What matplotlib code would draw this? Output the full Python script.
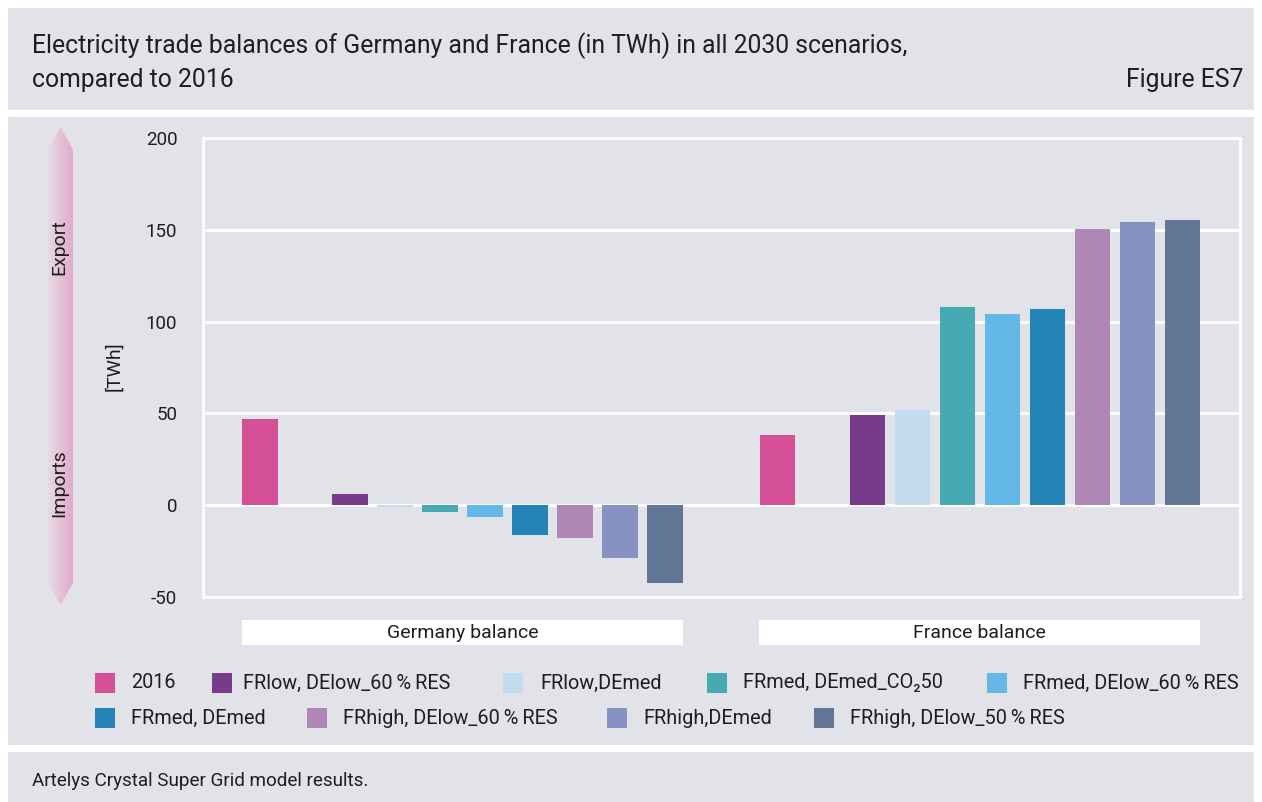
import numpy as np
import matplotlib
matplotlib.use("Agg")
import matplotlib.pyplot as plt
from matplotlib.patches import Rectangle, Polygon
import matplotlib.transforms as mtransforms
from matplotlib.colors import LinearSegmentedColormap

plt.rcParams['font.family'] = ['Roboto', 'DejaVu Sans']

# ---------------- data ----------------
scenarios = ["2016", "FRlow, DElow_60\u2009%\u2009RES", "FRlow,DEmed", "FRmed, DEmed_CO\u208250",
             "FRmed, DElow_60\u2009%\u2009RES", "FRmed, DEmed", "FRhigh, DElow_60\u2009%\u2009RES",
             "FRhigh,DEmed", "FRhigh, DElow_50\u2009%\u2009RES"]
colors = ["#d55096", "#773b89", "#c3dbef", "#47a9b2", "#63b8e8", "#2483b7", "#ae87b4", "#8693c2", "#627594"]
groups = ["Germany balance", "France balance"]
germany = [47, 6, -1, -3.5, -6.5, -16, -18, -29, -42.5]
france = [38.5, 49, 52, 108, 104, 107, 150.5, 154.5, 155.5]
yticks = [-50, 0, 50, 100, 150, 200]

title_line1 = "Electricity trade balances of Germany and France (in TWh) in all 2030 scenarios,"
title_line2 = "compared to 2016"
fig_label = "Figure ES7"
source = "Artelys Crystal Super Grid model results."

# ---------------- figure ----------------
W, H = 1262, 802
fig = plt.figure(figsize=(W / 100, H / 100), dpi=100, facecolor="white")
PANEL = "#e2e3e8"
TXT = "#1e1e1e"

def fx(x):
    return x / W

def fy(y):
    return 1 - y / H

def panel(x0, y0, x1, y1):
    fig.patches.append(Rectangle((fx(x0), fy(y1)), fx(x1) - fx(x0), fy(y0) - fy(y1),
                                 transform=fig.transFigure, facecolor=PANEL, edgecolor="none", zorder=-10))

panel(8, 8, 1254, 110)
panel(8, 117, 1254, 745)
panel(8, 752, 1254, 802)

fig.text(fx(32), fy(46), title_line1, fontsize=17.8, color=TXT, va="center", ha="left")
fig.text(fx(32), fy(80), title_line2, fontsize=17.8, color=TXT, va="center", ha="left")
fig.text(fx(1244), fy(80), fig_label, fontsize=17.8, color=TXT, va="center", ha="right")
fig.text(fx(32), fy(781), source, fontsize=13.6, color=TXT, va="center", ha="left")

# ---------------- export/import arrow ----------------
arr = fig.add_axes([0, 0, 1, 1], zorder=-1)
arr.set_xlim(0, W)
arr.set_ylim(H, 0)
arr.axis("off")
grad = np.linspace(0, 1, 64)[None, :]
cmap = LinearSegmentedColormap.from_list("pk", ["#e6dbe4", "#e3a9cc"])
im = arr.imshow(np.repeat(grad, 4, axis=0), cmap=cmap, extent=(48, 73, 605, 127), aspect="auto", zorder=1)
poly = Polygon([(60.5, 127), (73, 150), (73, 583), (60.5, 605), (48, 583), (48, 150)], closed=True,
               facecolor="none", edgecolor="none", transform=arr.transData)
arr.add_patch(poly)
im.set_clip_path(poly)
arr.text(59, 247, "Export", rotation=90, ha="center", va="center", fontsize=14, color=TXT)
arr.text(59, 483, "Imports", rotation=90, ha="center", va="center", fontsize=14, color=TXT)
arr.text(114, 366, "[TWh]", rotation=90, ha="center", va="center", fontsize=14, color=TXT)

# ---------------- axes ----------------
ax_l, ax_r, ax_t, ax_b = 203, 1240, 138, 597
ax = fig.add_axes([fx(ax_l), fy(ax_b), fx(ax_r) - fx(ax_l), fy(ax_t) - fy(ax_b)], zorder=1)
ax.patch.set_alpha(0)

n = len(scenarios)
slots = np.array([0] + list(range(2, n + 1)), dtype=float)
x_de = slots
x_fr = slots + 11.5
bw = 0.78
for i in range(n):
    ax.bar(x_de[i], germany[i], width=bw, color=colors[i], zorder=3)
    ax.bar(x_fr[i], france[i], width=bw, color=colors[i], zorder=3)

ax.set_xlim(-1.267, 21.78)
ax.set_ylim(-50, 200)
ax.set_yticks(yticks)
ax.set_yticklabels([str(v) for v in yticks], fontsize=13.5, color=TXT)
ax.tick_params(axis="y", length=0, pad=18.5)
ax.set_xticks([])
for v in yticks:
    ax.axhline(v, color="white", lw=2, zorder=2)
for s in ax.spines.values():
    s.set_color("white")
    s.set_linewidth(2)

# group label boxes
trans = mtransforms.blended_transform_factory(ax.transData, fig.transFigure)
for xs, name in [(x_de, groups[0]), (x_fr, groups[1])]:
    x0, x1 = xs[0] - 0.4, xs[-1] + 0.4
    r = Rectangle((x0, fy(645)), x1 - x0, fy(620) - fy(645), transform=trans,
                  facecolor="white", edgecolor="none", clip_on=False, zorder=1)
    ax.add_patch(r)
    ax.text((x0 + x1) / 2, fy(633), name, transform=trans, ha="center", va="center",
            fontsize=14, color=TXT)

# ---------------- legend ----------------
leg_pos = [(95, 131, 683), (212, 243, 683), (503, 540, 683), (707, 743, 683), (987, 1023, 683),
           (95, 131, 718), (307, 343, 718), (607, 643, 718), (814, 850, 718)]
for (sx, tx, yy), lab, c in zip(leg_pos, scenarios, colors):
    fig.patches.append(Rectangle((fx(sx), fy(yy + 10)), fx(20), 20 / H, transform=fig.transFigure,
                                 facecolor=c, edgecolor="none", zorder=2))
    fig.text(fx(tx), fy(yy), lab, fontsize=14.3, color=TXT, va="center", ha="left")

fig.savefig("out.png", dpi=100, facecolor="white")
